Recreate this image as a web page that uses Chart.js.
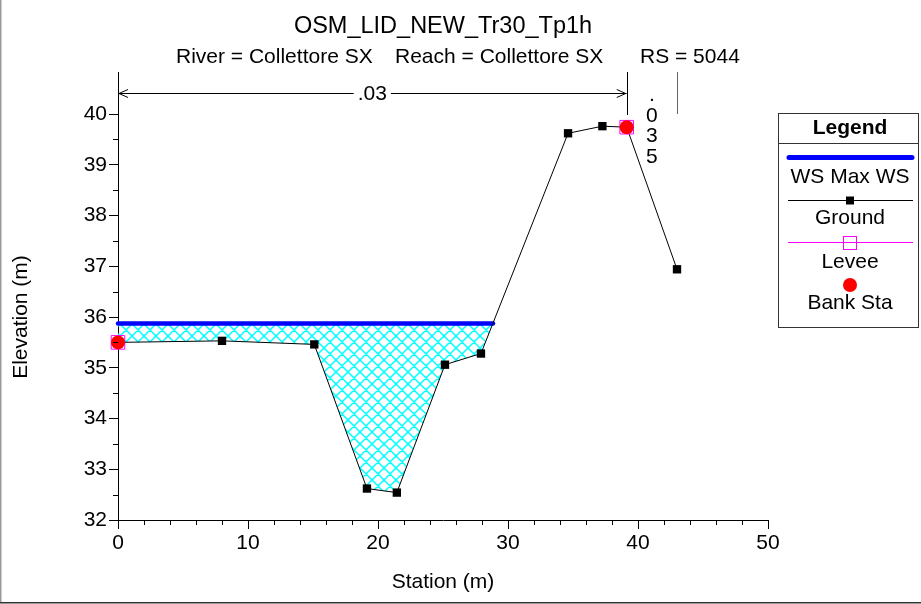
<!DOCTYPE html>
<html>
<head>
<meta charset="utf-8">
<script src="https://cdn.jsdelivr.net/npm/chart.js@4.4.1/dist/chart.umd.min.js"></script>
<style>
html,body{margin:0;padding:0;background:#fff;}
#wrap{width:921px;height:604px;position:relative;}
</style>
</head>
<body>
<div id="wrap"><canvas id="c"></canvas></div>
<script>
// ---- data ----
const titleText = 'OSM_LID_NEW_Tr30_Tp1h';
const subtitleParts = ['River = Collettore SX', 'Reach = Collettore SX', 'RS = 5044'];
const xAxisTitle = 'Station (m)';
const yAxisTitle = 'Elevation (m)';
const groundStations   = [0, 8.0, 15.1, 19.15, 21.45, 25.15, 27.92, 34.62, 37.26, 39.13, 43.0];
const groundElevations = [35.50, 35.53, 35.46, 32.62, 32.54, 35.06, 35.28, 39.62, 39.76, 39.74, 36.94];
const wsElevation = 35.87;
const wsStations = [0, 28.85];
const bankStations = [0, 39.13];
const bankElevations = [35.50, 39.74];
const leveeStations = [0, 39.13];
const leveeElevations = [35.50, 39.74];
const nValueLabels = ['.03', '.035'];
const nValueBounds = [0, 39.13, 43.0];
const legendTitle = 'Legend';
const legendLabels = ['WS Max WS', 'Ground', 'Levee', 'Bank Sta'];
const xRange = [0, 50];
const yRange = [32, 40];

// ---- styles ----
const FONT = '"Liberation Sans", Arial, Helvetica, sans-serif';
const BLUE = '#0000ff', MAGENTA = '#ff00ff', RED = '#ff0000';

function hatchPattern() {
  const n = 12;
  const c = document.createElement('canvas');
  c.width = n; c.height = n;
  const g = c.getContext('2d');
  g.strokeStyle = '#00ffff';
  g.lineWidth = 1.5;
  g.beginPath();
  for (let k = -1; k <= 1; k++) {
    g.moveTo(-2, -2 + k * n); g.lineTo(n + 2, n + 2 + k * n);
    g.moveTo(-2, n + 2 + k * n); g.lineTo(n + 2, -2 + k * n);
  }
  g.stroke();
  return g.createPattern(c, 'repeat');
}

const pts = (xs, ys) => xs.map((x, i) => ({x, y: ys[i]}));

const decor = {
  id: 'decor',
  afterDraw(chart) {
    const ctx = chart.ctx;
    const xs = chart.scales.x, ys = chart.scales.y;
    const area = chart.chartArea;
    ctx.save();
    // minor ticks
    ctx.strokeStyle = '#000'; ctx.lineWidth = 1;
    ctx.beginPath();
    for (let v = yRange[0] + 0.5; v < yRange[1]; v += 1) {
      const y = Math.round(ys.getPixelForValue(v)) + 0.5;
      ctx.moveTo(area.left - 5, y); ctx.lineTo(area.left, y);
    }
    for (let v = xRange[0] + 2; v < xRange[1]; v += 2) {
      if (v % 10 === 0) continue;
      const x = Math.round(xs.getPixelForValue(v)) + 0.5;
      ctx.moveTo(x, area.bottom); ctx.lineTo(x, area.bottom + 5);
    }
    ctx.stroke();

    // n-value region markers
    const top = area.top;
    const lineTop = top - 42, lineBot = ys.getPixelForValue(yRange[1]) + 1;
    const arrowY = top - 21;
    const xa = xs.getPixelForValue(nValueBounds[0]);
    const xb = xs.getPixelForValue(nValueBounds[1]);
    const xc = xs.getPixelForValue(nValueBounds[2]);
    ctx.strokeStyle = '#000';
    ctx.beginPath();
    ctx.moveTo(Math.round(xa) + 0.5, lineTop); ctx.lineTo(Math.round(xa) + 0.5, lineBot);
    ctx.moveTo(Math.round(xb) + 0.5, lineTop); ctx.lineTo(Math.round(xb) + 0.5, lineBot);
    ctx.stroke();
    ctx.strokeStyle = '#666';
    ctx.beginPath();
    ctx.moveTo(Math.round(xc) + 0.5, lineTop); ctx.lineTo(Math.round(xc) + 0.5, lineBot - 1);
    ctx.stroke();
    // .03 arrow
    ctx.font = '21px ' + FONT;
    ctx.fillStyle = '#000';
    ctx.textAlign = 'center'; ctx.textBaseline = 'middle';
    const mid = (xa + xb) / 2;
    const tw = ctx.measureText(nValueLabels[0]).width;
    ctx.strokeStyle = '#000';
    ctx.beginPath();
    ctx.moveTo(xa, arrowY + 0.5); ctx.lineTo(mid - tw / 2 - 4, arrowY + 0.5);
    ctx.moveTo(mid + tw / 2 + 4, arrowY + 0.5); ctx.lineTo(xb, arrowY + 0.5);
    ctx.moveTo(xa + 10, arrowY - 3.5); ctx.lineTo(xa + 1, arrowY + 0.5); ctx.lineTo(xa + 10, arrowY + 4.5);
    ctx.moveTo(xb - 10, arrowY - 3.5); ctx.lineTo(xb - 1, arrowY + 0.5); ctx.lineTo(xb - 10, arrowY + 4.5);
    ctx.stroke();
    ctx.fillText(nValueLabels[0], mid, arrowY + 1);
    // .035 vertical
    const chars = nValueLabels[1].split('');
    const cx = (xb + xc) / 2;
    chars.forEach((ch, i) => ctx.fillText(ch, cx, top - 19 + i * 20.8));

    // title & subtitle
    const pcx = (area.left + area.right) / 2;
    ctx.textBaseline = 'alphabetic';
    ctx.font = '23.5px ' + FONT;
    ctx.textAlign = 'center';
    ctx.fillText(titleText, pcx, 33);
    ctx.font = '21px ' + FONT;
    ctx.textAlign = 'left';
    ctx.fillText(subtitleParts[0], 176, 63);
    ctx.fillText(subtitleParts[1], 395, 63);
    ctx.fillText(subtitleParts[2], 640, 63);

    // legend
    const L = 778.5, R = 918.5, T = 113.5, B = 327.5, LC = 850;
    ctx.strokeStyle = '#333'; ctx.lineWidth = 1;
    ctx.strokeRect(L, T, R - L, B - T);
    ctx.beginPath(); ctx.moveTo(L, 143.5); ctx.lineTo(R, 143.5); ctx.stroke();
    ctx.textAlign = 'center'; ctx.textBaseline = 'middle';
    ctx.font = 'bold 21px ' + FONT;
    ctx.fillText(legendTitle, LC, 128.5);
    ctx.font = '21px ' + FONT;
    ctx.strokeStyle = BLUE; ctx.lineWidth = 5; ctx.lineCap = 'round';
    ctx.beginPath(); ctx.moveTo(789, 157.5); ctx.lineTo(912, 157.5); ctx.stroke();
    ctx.lineCap = 'butt';
    ctx.fillText(legendLabels[0], LC, 177);
    ctx.strokeStyle = '#000'; ctx.lineWidth = 1;
    ctx.beginPath(); ctx.moveTo(788, 200.5); ctx.lineTo(913, 200.5); ctx.stroke();
    ctx.fillRect(LC - 4, 196.5, 8, 8);
    ctx.fillText(legendLabels[1], LC, 218.5);
    ctx.strokeStyle = MAGENTA;
    ctx.beginPath(); ctx.moveTo(788, 242.5); ctx.lineTo(913, 242.5); ctx.stroke();
    ctx.strokeRect(LC - 6.5, 236.5, 13, 13);
    ctx.fillStyle = '#000';
    ctx.fillText(legendLabels[2], LC, 262.5);
    ctx.fillStyle = RED;
    ctx.beginPath(); ctx.arc(LC, 285, 7, 0, Math.PI * 2); ctx.fill();
    ctx.fillStyle = '#000';
    ctx.fillText(legendLabels[3], LC, 303.5);

    // frame
    ctx.fillStyle = '#999';
    ctx.fillRect(0, 0, 1.5, 602);
    ctx.fillStyle = '#333';
    ctx.fillRect(0, 602, 921, 1.5);
    ctx.restore();
  }
};

Chart.defaults.font.family = FONT;
Chart.defaults.font.size = 21;
Chart.defaults.color = '#000';

new Chart(document.getElementById('c'), {
  type: 'scatter',
  data: {
    datasets: [
      {
        label: legendLabels[3],
        data: pts(bankStations, bankElevations),
        pointStyle: 'circle', pointRadius: 7, pointBackgroundColor: RED,
        pointBorderWidth: 0, showLine: false, order: 0, clip: false
      },
      {
        label: legendLabels[2],
        data: pts(leveeStations, leveeElevations),
        pointStyle: 'rect', pointRadius: 9.6, pointBackgroundColor: 'rgba(0,0,0,0)',
        pointBorderColor: MAGENTA, pointBorderWidth: 1, showLine: false, order: 1, clip: false
      },
      {
        label: legendLabels[1],
        data: pts(groundStations, groundElevations),
        showLine: true, borderColor: '#000', borderWidth: 1, tension: 0,
        pointStyle: 'rect', pointRadius: 5.9, pointBackgroundColor: '#000',
        pointBorderWidth: 0, fill: false, order: 2, clip: false
      },
      {
        label: legendLabels[0],
        data: wsStations.map(x => ({x, y: wsElevation})),
        showLine: true, borderColor: BLUE, borderWidth: 4.5, borderCapStyle: 'round',
        pointRadius: 0, tension: 0, clip: false,
        fill: {target: 2}, backgroundColor: hatchPattern(), order: 3
      }
    ]
  },
  options: {
    responsive: true,
    maintainAspectRatio: false,
    animation: false,
    events: [],
    layout: {padding: {left: 0, top: 114, right: 153, bottom: 0}},
    plugins: {legend: {display: false}, tooltip: {enabled: false}, title: {display: false}},
    scales: {
      x: {
        type: 'linear', min: xRange[0], max: xRange[1],
        ticks: {stepSize: 10, padding: 2, maxRotation: 0, autoSkip: false},
        grid: {display: true, drawOnChartArea: false, drawTicks: true, tickLength: 9, tickColor: '#000'},
        border: {display: true, color: '#000', width: 1},
        title: {display: true, text: xAxisTitle, padding: {top: 0, bottom: 9}},
        afterFit: s => { s.height = 84; }
      },
      y: {
        type: 'linear', min: yRange[0], max: yRange[1],
        ticks: {stepSize: 1, padding: 2, autoSkip: false},
        grid: {display: true, drawOnChartArea: false, drawTicks: true, tickLength: 9, tickColor: '#000'},
        border: {display: true, color: '#000', width: 1},
        title: {display: true, text: yAxisTitle, padding: {top: 9, bottom: 0}},
        afterFit: s => { s.width = 118; }
      }
    }
  },
  plugins: [decor]
});
</script>
</body>
</html>
